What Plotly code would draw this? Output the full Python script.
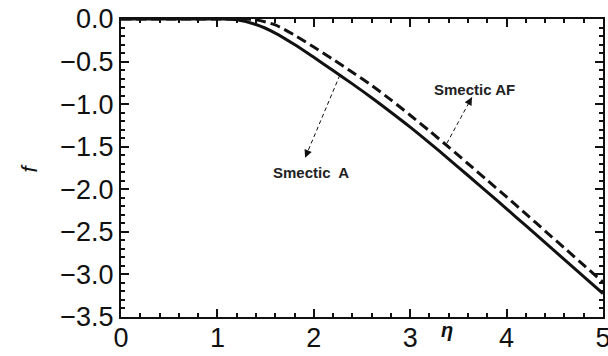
import plotly.graph_objects as go

# eta grid and curve values
eta = [0.0, 0.5, 1.0, 1.2, 1.4, 1.6, 1.8, 2.0, 2.2, 2.4, 2.6, 2.8, 3.0, 3.2, 3.4,
       3.6, 3.8, 4.0, 4.2, 4.4, 4.6, 4.8, 5.0]
f_smectic_a = [0.0, 0.0, 0.0, -0.008, -0.065, -0.165, -0.30, -0.45, -0.605, -0.762,
               -0.925, -1.095, -1.27, -1.455, -1.645, -1.838, -2.033, -2.23, -2.428,
               -2.627, -2.826, -3.025, -3.225]
f_smectic_af = [0.0, 0.0, 0.0, 0.0, -0.01, -0.07, -0.19, -0.33, -0.475, -0.625,
                -0.78, -0.95, -1.13, -1.315, -1.505, -1.70, -1.895, -2.09, -2.29,
                -2.49, -2.69, -2.89, -3.09]

x_ticks = [0, 1, 2, 3, 4, 5]
y_ticks = [0.0, -0.5, -1.0, -1.5, -2.0, -2.5, -3.0, -3.5]
y_ticklabels = ["0.0", "\u22120.5", "\u22121.0", "\u22121.5", "\u22122.0",
                "\u22122.5", "\u22123.0", "\u22123.5"]

FONT = "Arial, Liberation Sans, sans-serif"

fig = go.Figure()
fig.add_trace(go.Scatter(x=eta, y=f_smectic_a, mode="lines", name="Smectic A",
                         line=dict(color="#111111", width=3, shape="spline",
                                   smoothing=0.8)))
fig.add_trace(go.Scatter(x=eta, y=f_smectic_af, mode="lines", name="Smectic AF",
                         line=dict(color="#111111", width=3, dash="10px,5px",
                                   shape="spline", smoothing=0.8)))

# dashed annotation arrows (tail on curve -> head near label)
arrows = [
    dict(tail=(2.27, -0.66), head=(1.91, -1.63)),
    dict(tail=(3.38, -1.46), head=(3.64, -0.92)),
]
for a in arrows:
    (tx, ty), (hx, hy) = a["tail"], a["head"]
    fig.add_shape(type="line", x0=tx, y0=ty, x1=hx, y1=hy, xref="x", yref="y",
                  line=dict(color="#111111", width=1, dash="4px,3px"))
    fig.add_annotation(x=hx, y=hy, ax=hx - (hx - tx) * 0.08, ay=hy - (hy - ty) * 0.08,
                       xref="x", yref="y", axref="x", ayref="y", text="",
                       showarrow=True, arrowhead=2, arrowsize=1.3, arrowwidth=1.2,
                       arrowcolor="#111111")

fig.add_annotation(x=1.97, y=-1.80, xref="x", yref="y", text="<b>Smectic  A</b>",
                   showarrow=False, font=dict(family=FONT, size=15, color="#222222"))
fig.add_annotation(x=3.67, y=-0.83, xref="x", yref="y", text="<b>Smectic AF</b>",
                   showarrow=False, font=dict(family=FONT, size=15, color="#222222"))

# axis titles
fig.add_annotation(x=3.38, y=-0.045, xref="x", yref="paper", text="<i><b>η</b></i>",
                   showarrow=False, yanchor="middle",
                   font=dict(family=FONT, size=20, color="#111111"))
fig.add_annotation(x=-0.19, y=0.50, xref="paper", yref="paper", text="<i>f</i>",
                   showarrow=False, textangle=-90, xanchor="center",
                   font=dict(family=FONT, size=22, color="#111111"))

axis_common = dict(showgrid=False, zeroline=False, showline=True, linecolor="#111111",
                   linewidth=2, mirror="ticks", ticks="inside", tickcolor="#111111",
                   tickwidth=1.5, ticklen=8, automargin=False,
                   ticklabeloverflow="allow",
                   tickfont=dict(family=FONT, size=27, color="#111111"))

fig.update_xaxes(range=[0, 5], tickvals=x_ticks, ticktext=[str(v) for v in x_ticks],
                 ticklabelstandoff=-4,
                 minor=dict(dtick=0.2, ticks="inside", ticklen=4, tickwidth=1.5,
                            tickcolor="#111111"),
                 **axis_common)
fig.update_yaxes(range=[-3.5, 0.0], tickvals=y_ticks, ticktext=y_ticklabels,
                 minor=dict(dtick=0.1, ticks="inside", ticklen=4, tickwidth=1.5,
                            tickcolor="#111111"),
                 **axis_common)

fig.update_layout(width=608, height=356, showlegend=False,
                  margin=dict(l=121, r=5, t=19, b=39),
                  plot_bgcolor="white", paper_bgcolor="white")

fig.write_html("out.html", config={"displayModeBar": False},
               post_script="document.body.style.margin='0';document.body.style.overflow='hidden';")
